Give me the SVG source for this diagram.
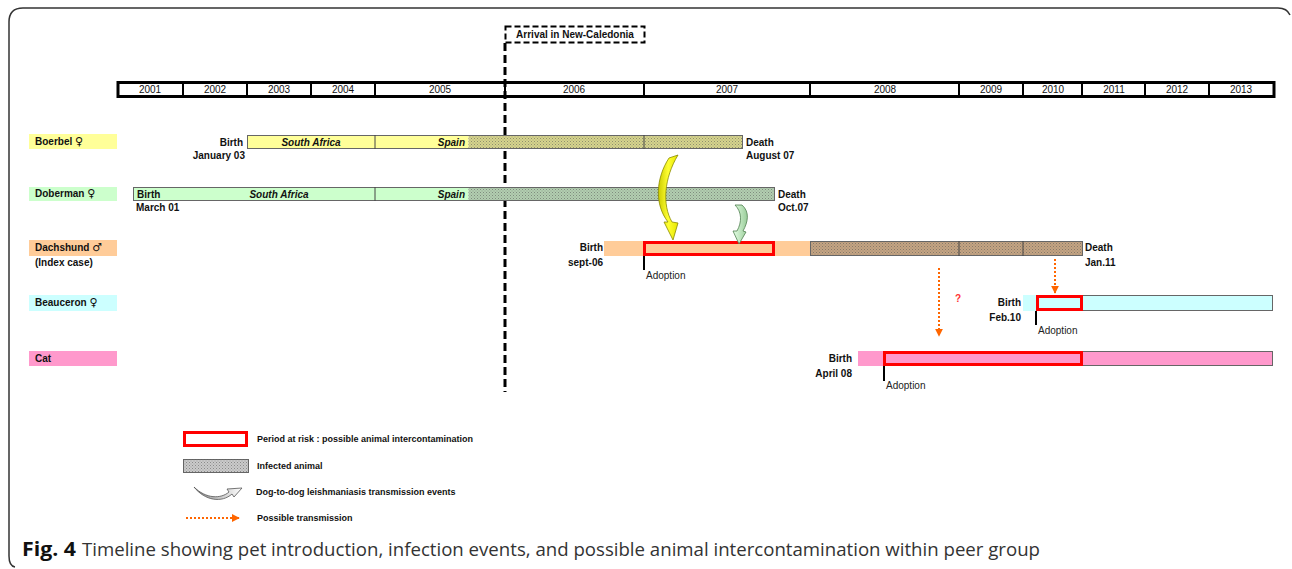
<svg xmlns="http://www.w3.org/2000/svg" width="1292" height="569" viewBox="0 0 1292 569">
<style>
.lbl{font-family:"Liberation Sans",Arial,sans-serif;font-size:10px;font-weight:bold;fill:#111}
.sym{font-family:"DejaVu Sans",sans-serif;font-size:11px;font-weight:normal}
.yr{font-family:"Liberation Sans",Arial,sans-serif;font-size:10px;fill:#111}
.it{font-family:"Liberation Sans",Arial,sans-serif;font-size:10px;font-weight:bold;font-style:italic;fill:#111}
.ad{font-family:"Liberation Sans",Arial,sans-serif;font-size:10px;fill:#222}
.lg{font-family:"Liberation Sans",Arial,sans-serif;font-size:9px;font-weight:bold;fill:#111}
.risk{fill:none;stroke:#FF0000;stroke-width:3}
.out{stroke:#666;stroke-width:1}
.tick{stroke:#000;stroke-width:2}
.div{stroke:#444;stroke-width:1}
.pos{stroke:#FF6600;stroke-width:2;stroke-dasharray:2 2;fill:none}
</style>
<defs>
<pattern id="dots" width="3" height="3" patternUnits="userSpaceOnUse">
<rect x="0" y="0" width="1" height="1" fill="#555" fill-opacity="0.55"/>
<rect x="1.5" y="1.5" width="1" height="1" fill="#555" fill-opacity="0.4"/>
</pattern>
<marker id="oh" viewBox="0 0 10 10" refX="9" refY="5" markerWidth="4" markerHeight="4" orient="auto" markerUnits="strokeWidth">
<path d="M0,0 L10,5 L0,10 Z" fill="#FF6600"/>
</marker>
<linearGradient id="yg" x1="0" y1="0" x2="1" y2="0">
<stop offset="0" stop-color="#CCCC00"/><stop offset="0.5" stop-color="#FFFF33"/><stop offset="1" stop-color="#E6E600"/>
</linearGradient>
<linearGradient id="gg" x1="0" y1="0" x2="1" y2="0">
<stop offset="0" stop-color="#E6FFE6"/><stop offset="1" stop-color="#99CC99"/>
</linearGradient>
<linearGradient id="lgg" x1="0" y1="0" x2="1" y2="0">
<stop offset="0" stop-color="#888"/><stop offset="1" stop-color="#fff"/>
</linearGradient>
</defs>
<rect width="1292" height="569" fill="#fff"/>
<path d="M15,567 Q9,566 9,556 L9,22 Q9,8 23,8 L1278,8 Q1287,8 1290,15" fill="none" stroke="#333" stroke-width="1.5"/>

<g id="header">
<rect x="118" y="82.5" width="1156" height="14" fill="#fff" stroke="#000" stroke-width="3"/>
<g stroke="#000" stroke-width="2">
<line x1="183" y1="82" x2="183" y2="97"/><line x1="247" y1="82" x2="247" y2="97"/>
<line x1="311" y1="82" x2="311" y2="97"/><line x1="375" y1="82" x2="375" y2="97"/>
<line x1="505" y1="82" x2="505" y2="97"/><line x1="644" y1="82" x2="644" y2="97"/>
<line x1="810" y1="82" x2="810" y2="97"/><line x1="959" y1="82" x2="959" y2="97"/>
<line x1="1023" y1="82" x2="1023" y2="97"/><line x1="1082" y1="82" x2="1082" y2="97"/>
<line x1="1145" y1="82" x2="1145" y2="97"/><line x1="1209" y1="82" x2="1209" y2="97"/>
</g>
<g class="yr" text-anchor="middle">
<text x="150" y="93">2001</text><text x="215" y="93">2002</text><text x="279" y="93">2003</text>
<text x="343" y="93">2004</text><text x="440" y="93">2005</text><text x="574" y="93">2006</text>
<text x="727" y="93">2007</text><text x="885" y="93">2008</text><text x="991" y="93">2009</text>
<text x="1053" y="93">2010</text><text x="1114" y="93">2011</text><text x="1177" y="93">2012</text>
<text x="1241" y="93">2013</text>
</g>
</g>

<g id="arrival">
<rect x="505.5" y="26.5" width="139" height="16" fill="#fff" stroke="#000" stroke-width="2" stroke-dasharray="6 3"/>
<text x="575" y="38" class="lbl" font-size="9.5" text-anchor="middle">Arrival in New-Caledonia</text>
<line x1="505" y1="43" x2="505" y2="392" stroke="#000" stroke-width="3" stroke-dasharray="8 4"/>
</g>

<g id="boerbel">
<rect x="29" y="134" width="88" height="15" fill="#FFFF99"/>
<text x="35" y="145" class="lbl">Boerbel <tspan class="sym">♀</tspan></text>
<rect x="247.5" y="135.5" width="221" height="13" fill="#FFFF99"/>
<rect x="468.5" y="135.5" width="274" height="13" fill="#D6D48C"/>
<rect x="468.5" y="135.5" width="274" height="13" fill="url(#dots)"/>
<rect x="247.5" y="135.5" width="495" height="13" fill="none" class="out"/>
<line x1="375" y1="135" x2="375" y2="149" class="div"/><line x1="644" y1="135" x2="644" y2="149" class="div"/>
<text x="311" y="145.5" class="it" text-anchor="middle">South Africa</text>
<text x="465" y="145.5" class="it" text-anchor="end">Spain</text>
<text x="243" y="146" class="lbl" text-anchor="end">Birth</text>
<text x="245" y="159" class="lbl" text-anchor="end">January 03</text>
<text x="746" y="146" class="lbl">Death</text>
<text x="746" y="159" class="lbl">August 07</text>
</g>

<g id="doberman">
<rect x="29" y="187" width="88" height="14" fill="#CCFFCC"/>
<text x="35" y="197" class="lbl">Doberman <tspan class="sym">♀</tspan></text>
<rect x="133.5" y="187.5" width="335" height="13" fill="#CCFFCC"/>
<rect x="468.5" y="187.5" width="306" height="13" fill="#B2CEB0"/>
<rect x="468.5" y="187.5" width="306" height="13" fill="url(#dots)"/>
<rect x="133.5" y="187.5" width="641" height="13" fill="none" class="out"/>
<line x1="375" y1="187" x2="375" y2="201" class="div"/>
<text x="137" y="197.5" class="lbl">Birth</text>
<text x="279" y="197.5" class="it" text-anchor="middle">South Africa</text>
<text x="465" y="197.5" class="it" text-anchor="end">Spain</text>
<text x="136" y="211" class="lbl">March 01</text>
<text x="778" y="197.5" class="lbl">Death</text>
<text x="778" y="211" class="lbl">Oct.07</text>
</g>

<g id="dachshund">
<rect x="29" y="240" width="88" height="16" fill="#FFCC99"/>
<text x="35" y="251" class="lbl">Dachshund <tspan class="sym">♂</tspan></text>
<text x="35" y="266" class="lbl">(Index case)</text>
<rect x="604" y="241" width="206" height="15" fill="#FFCC99"/>
<rect x="810.5" y="241.5" width="272" height="14" fill="#C4A482"/>
<rect x="810.5" y="241.5" width="272" height="14" fill="url(#dots)"/>
<rect x="810.5" y="241.5" width="272" height="14" fill="none" class="out"/>
<line x1="959" y1="241" x2="959" y2="256" class="div"/><line x1="1023" y1="241" x2="1023" y2="256" class="div"/>
<rect x="644.5" y="242.5" width="129" height="12" class="risk"/>
<text x="603" y="251" class="lbl" text-anchor="end">Birth</text>
<text x="603" y="266" class="lbl" text-anchor="end">sept-06</text>
<line x1="644" y1="256" x2="644" y2="270" class="tick"/>
<text x="646" y="279" class="ad">Adoption</text>
<text x="1085" y="251" class="lbl">Death</text>
<text x="1085" y="266" class="lbl">Jan.11</text>
</g>

<g id="beauceron">
<rect x="29" y="295" width="88" height="16" fill="#CCFFFF"/>
<text x="35" y="306" class="lbl">Beauceron <tspan class="sym">♀</tspan></text>
<rect x="1023" y="295" width="60" height="16" fill="#CCFFFF"/>
<rect x="1082.5" y="295.5" width="190" height="15" fill="#CCFFFF" class="out"/>
<rect x="1037.5" y="296.5" width="44" height="13" class="risk"/>
<text x="1021" y="306" class="lbl" text-anchor="end">Birth</text>
<text x="1021" y="321" class="lbl" text-anchor="end">Feb.10</text>
<line x1="1036" y1="311" x2="1036" y2="325" class="tick"/>
<text x="1038" y="334" class="ad">Adoption</text>
</g>

<g id="cat">
<rect x="29" y="351" width="88" height="15" fill="#FF99CC"/>
<text x="35" y="362" class="lbl">Cat</text>
<rect x="858" y="351" width="225" height="15" fill="#FF99CC"/>
<rect x="1082.5" y="351.5" width="190" height="14" fill="#FF99CC" class="out"/>
<rect x="884.5" y="352.5" width="197" height="12" class="risk"/>
<text x="852" y="362" class="lbl" text-anchor="end">Birth</text>
<text x="852" y="377" class="lbl" text-anchor="end">April 08</text>
<line x1="884" y1="366" x2="884" y2="381" class="tick"/>
<text x="886" y="389" class="ad">Adoption</text>
</g>

<g id="connectors">
<path d="M669,158 L678,155 C664,178 662,205 672,222 L678,223 L673,240 L664,222 L668,222 C654,204 656,178 669,158 Z" fill="url(#yg)" stroke="#8A8A00" stroke-width="0.8"/>
<path d="M735,205 L742,205 C750,212 748,222 743,231 L746,232 L739,244 L733,231 L737,231 C742,222 742,212 735,205 Z" fill="url(#gg)" stroke="#4F7F4F" stroke-width="0.8"/>
<line x1="939" y1="268" x2="939" y2="336" class="pos" marker-end="url(#oh)"/>
<text x="955" y="302" class="lbl" style="fill:#FF3333" font-size="11">?</text>
<line x1="1055" y1="259" x2="1055" y2="293" class="pos" marker-end="url(#oh)"/>
</g>

<g id="legend">
<rect x="184.5" y="432.5" width="62" height="13" class="risk"/>
<text x="257" y="442" class="lg">Period at risk : possible animal intercontamination</text>
<rect x="183.5" y="459.5" width="65" height="13" fill="#CACACA" stroke="#666" stroke-width="1"/>
<rect x="183.5" y="459.5" width="65" height="13" fill="url(#dots)"/>
<text x="257" y="469" class="lg">Infected animal</text>
<path d="M194,487 C206,499 221,499 229,492 L227,489 L242,488 L234,497 L232,494 C222,503 205,501 194,487 Z" fill="url(#lgg)" stroke="#555" stroke-width="0.8"/>
<text x="256" y="495" class="lg">Dog-to-dog leishmaniasis transmission events</text>
<line x1="186" y1="518" x2="239" y2="518" class="pos" marker-end="url(#oh)"/>
<text x="257" y="521" class="lg">Possible transmission</text>
</g>

<g id="caption">
<text x="22" y="556" font-family="'Open Sans','Liberation Sans',sans-serif" font-size="19" font-weight="bold" fill="#111" textLength="54" lengthAdjust="spacingAndGlyphs">Fig. 4</text>
<text x="82" y="556" font-family="'Open Sans','Liberation Sans',sans-serif" font-size="19" fill="#333" textLength="958" lengthAdjust="spacingAndGlyphs">Timeline showing pet introduction, infection events, and possible animal intercontamination within peer group</text>
</g>
</svg>
